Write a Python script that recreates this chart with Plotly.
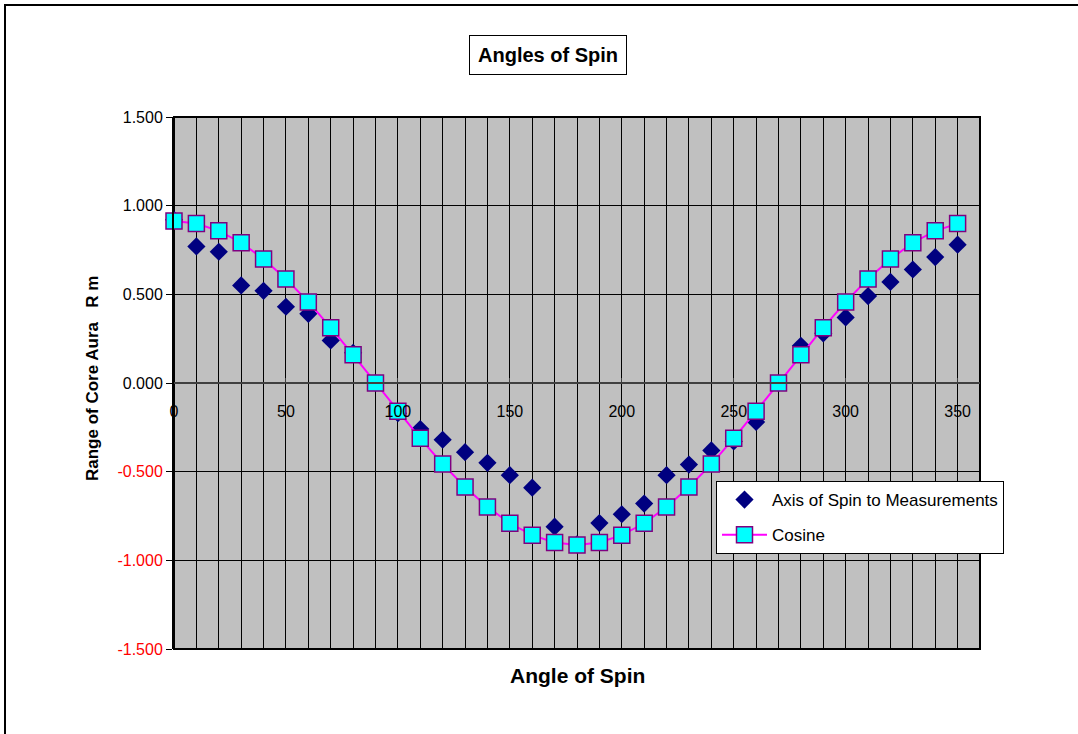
import plotly.graph_objects as go

angles = [0, 10, 20, 30, 40, 50, 60, 70, 80, 90, 100, 110, 120, 130, 140, 150, 160, 170,
          180, 190, 200, 210, 220, 230, 240, 250, 260, 270, 280, 290, 300, 310, 320, 330, 340, 350]

measurements = [0.92, 0.77, 0.74, 0.55, 0.52, 0.43, 0.39, 0.24, 0.17, 0.00,
                -0.17, -0.26, -0.32, -0.39, -0.45, -0.52, -0.59, -0.81, -0.91,
                -0.79, -0.74, -0.68, -0.52, -0.46, -0.38, -0.33, -0.22, 0.00,
                0.21, 0.28, 0.37, 0.49, 0.57, 0.64, 0.71, 0.78]

cosine = [0.913, 0.899, 0.858, 0.791, 0.699, 0.587, 0.457, 0.312, 0.159, 0.000,
          -0.159, -0.312, -0.457, -0.587, -0.699, -0.791, -0.858, -0.899, -0.913,
          -0.899, -0.858, -0.791, -0.699, -0.587, -0.457, -0.312, -0.159, 0.000,
          0.159, 0.312, 0.457, 0.587, 0.699, 0.791, 0.858, 0.899]

y_tickvals = [1.5, 1.0, 0.5, 0.0, -0.5, -1.0, -1.5]
y_ticklabels = ["1.500", "1.000", "0.500", "0.000", "-0.500", "-1.000", "-1.500"]
x_tickvals = [0, 50, 100, 150, 200, 250, 300, 350]

FONT = "Arial, Liberation Sans, sans-serif"

y_ticktext = [
    (f'<span style="color:#FF0000">{t}</span>' if v < 0 else t)
    for v, t in zip(y_tickvals, y_ticklabels)
]

fig = go.Figure()
fig.add_trace(go.Scatter(
    x=angles, y=measurements, mode="markers", name="Axis of Spin to Measurements",
    marker=dict(symbol="diamond", size=14, color="#000080", line=dict(width=0)),
    cliponaxis=False, legendgroup="a",
))
fig.add_trace(go.Scatter(
    x=angles, y=cosine, mode="lines+markers", name="Cosine",
    line=dict(color="#FF00FF", width=2),
    marker=dict(symbol="square", size=16, color="#00FFFF", line=dict(color="#800080", width=1.5)),
    cliponaxis=False, legendgroup="b",
))

fig.update_layout(
    width=1078, height=734,
    margin=dict(l=174, r=98, t=117, b=85),
    paper_bgcolor="white", plot_bgcolor="#C0C0C0",
    font=dict(family=FONT, size=16, color="black"),
    showlegend=True,
    legend=dict(
        x=(716 - 174) / 806, y=(649 - 481) / 532, xanchor="left", yanchor="top",
        bgcolor="white", bordercolor="black", borderwidth=1,
        font=dict(family=FONT, size=17, color="black"),
        itemwidth=45, tracegroupgap=10, traceorder="grouped",
    ),
    xaxis=dict(
        range=[0, 360], tickvals=x_tickvals, ticktext=[str(v) for v in x_tickvals],
        showgrid=True, gridcolor="black", gridwidth=1,
        minor=dict(dtick=10, tick0=0, showgrid=True, gridcolor="black", gridwidth=1),
        zeroline=False, anchor="free", position=0.5,
        showline=True, linecolor="#404040", linewidth=2,
        ticks="inside", ticklen=4, tickcolor="#404040",
        ticklabelstandoff=14,
        tickfont=dict(family=FONT, size=16, color="black"),
    ),
    yaxis=dict(
        range=[-1.5, 1.5], tickvals=y_tickvals, ticktext=y_ticktext,
        showgrid=True, gridcolor="black", gridwidth=1,
        zeroline=False, showline=True, linecolor="black", linewidth=2,
        ticks="outside", ticklen=6, tickcolor="black",
        tickfont=dict(family=FONT, size=16, color="black"),
    ),
    annotations=[
        dict(text="<b>Angles of Spin</b>", xref="paper", yref="paper",
             x=(547.5 - 174) / 806, y=(649 - 55) / 532, xanchor="center", yanchor="middle",
             showarrow=False, font=dict(family=FONT, size=20, color="black"),
             bordercolor="black", borderwidth=1, borderpad=8, bgcolor="white"),
        dict(text="<b>Angle of Spin</b>", xref="paper", yref="paper",
             x=(577 - 174) / 806, y=(649 - 675) / 532, xanchor="center", yanchor="middle",
             showarrow=False, font=dict(family=FONT, size=21, color="black")),
        dict(text="<b>Range of Core Aura\u00a0\u00a0\u00a0R m</b>", xref="paper", yref="paper",
             x=(93 - 174) / 806, y=(649 - 379) / 532, xanchor="center", yanchor="middle",
             textangle=-90, showarrow=False, font=dict(family=FONT, size=17, color="black")),
    ],
    shapes=[
        dict(type="rect", xref="paper", yref="paper", x0=0, x1=1, y0=0, y1=1,
             line=dict(color="black", width=2), layer="below"),
        dict(type="rect", xref="paper", yref="paper",
             x0=(5 - 174) / 806, x1=1.3, y0=-0.3, y1=(649 - 5) / 532,
             line=dict(color="black", width=2), fillcolor="rgba(0,0,0,0)", layer="below"),
    ],
)

fig.write_html("out.html", config={"displayModeBar": False},
               post_script="document.body.style.margin='0';")
